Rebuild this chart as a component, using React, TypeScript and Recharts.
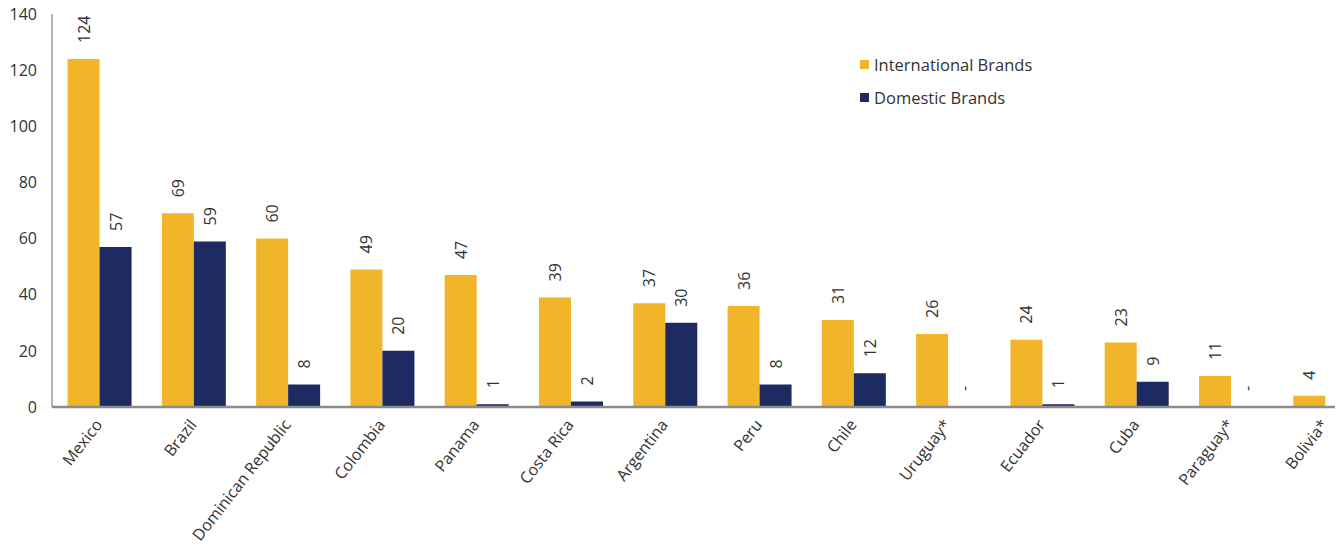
import React from "react";
import { BarChart, Bar, XAxis, YAxis, LabelList, Legend } from "recharts";

const categories = [
  "Mexico",
  "Brazil",
  "Dominican Republic",
  "Colombia",
  "Panama",
  "Costa Rica",
  "Argentina",
  "Peru",
  "Chile",
  "Uruguay*",
  "Ecuador",
  "Cuba",
  "Paraguay*",
  "Bolivia*",
];
const internationalBrands = [124, 69, 60, 49, 47, 39, 37, 36, 31, 26, 24, 23, 11, 4];
const domesticBrands: (number | null)[] = [57, 59, 8, 20, 1, 2, 30, 8, 12, 0, 1, 9, 0, null];
const yTicks = [0, 20, 40, 60, 80, 100, 120, 140];

const seriesNames = { intl: "International Brands", dom: "Domestic Brands" };
const seriesOrder = [seriesNames.intl, seriesNames.dom];
const colors = { intl: "#F1B52A", dom: "#1E2A62" };

const data = categories.map((country, i) => ({
  country,
  intl: internationalBrands[i],
  dom: domesticBrands[i],
}));

const FONT = "'Open Sans', sans-serif";
const TEXT = "#333333";

const RotLabel = ({ cx, cy, text }: { cx: number; cy: number; text: string | number }) => (
  <text
    x={cx}
    y={cy}
    transform={`rotate(-90 ${cx} ${cy})`}
    textAnchor="start"
    dominantBaseline="central"
    fontFamily={FONT}
    fontSize={16}
    fill={TEXT}
  >
    {text}
  </text>
);

// International label; also draws the "-" for a zero domestic value (zero-height bars get no label)
const IntlLabel = (props: any) => {
  const { x, y, width, height, value, index } = props;
  if (value === null || value === undefined) return null;
  const domVal = domesticBrands[index];
  const baseY = y + height;
  return (
    <g>
      <RotLabel cx={x + width / 2} cy={y - 16} text={value} />
      {domVal === 0 ? <RotLabel cx={x + width * 1.5} cy={baseY - 16} text="-" /> : null}
    </g>
  );
};

const DomLabel = (props: any) => {
  const { x, y, width, value } = props;
  if (value === null || value === undefined || value === 0) return null;
  return <RotLabel cx={x + width / 2} cy={y - 16} text={value} />;
};

const XTick = (props: any) => {
  const { x, y, payload } = props;
  const ax = x + 4;
  const ay = y + 18;
  return (
    <text
      x={ax}
      y={ay}
      transform={`rotate(-52 ${ax} ${ay})`}
      textAnchor="end"
      fontFamily={FONT}
      fontSize={16}
      fill={TEXT}
    >
      {payload.value}
    </text>
  );
};

const LegendContent = (props: any) => {
  const payload = [...(props.payload || [])].sort(
    (a: any, b: any) => seriesOrder.indexOf(a.value) - seriesOrder.indexOf(b.value)
  );
  return (
    <div style={{ fontFamily: FONT, fontSize: 16.5, color: TEXT }}>
      {payload.map((p: any) => (
        <div key={p.value} style={{ display: "flex", alignItems: "center", height: 33 }}>
          <span style={{ display: "inline-block", width: 9, height: 9, background: p.color }} />
          <span style={{ marginLeft: 5, whiteSpace: "nowrap" }}>{p.value}</span>
        </div>
      ))}
    </div>
  );
};

export default function App() {
  return (
    <div style={{ width: 1335, height: 550, marginTop: -8, overflow: "hidden" }}>
      <BarChart
        width={1370}
        height={550}
        data={data}
        margin={{ top: 14, right: 6, bottom: 0, left: 0 }}
        barCategoryGap="16.5%"
        barGap={0}
      >
        <XAxis
          dataKey="country"
          interval={0}
          height={143}
          tickLine={false}
          tickSize={0}
          tickMargin={0}
          axisLine={{ stroke: "#8c8c8c", strokeWidth: 2.5 }}
          tick={<XTick />}
        />
        <YAxis
          width={44}
          domain={[0, 140]}
          ticks={yTicks}
          interval={0}
          tickLine={false}
          tickSize={0}
          tickMargin={15}
          axisLine={{ stroke: "#999999", strokeWidth: 1.5 }}
          tick={{ fill: TEXT, fontSize: 16, fontFamily: FONT }}
        />
        <Legend
          layout="vertical"
          align="center"
          verticalAlign="middle"
          wrapperStyle={{ top: 48, left: 852, width: 240 }}
          content={<LegendContent />}
        />
        <Bar dataKey="intl" name={seriesNames.intl} fill={colors.intl} isAnimationActive={false}>
          <LabelList dataKey="intl" content={<IntlLabel />} />
        </Bar>
        <Bar dataKey="dom" name={seriesNames.dom} fill={colors.dom} isAnimationActive={false}>
          <LabelList dataKey="dom" content={<DomLabel />} />
        </Bar>
      </BarChart>
    </div>
  );
}
